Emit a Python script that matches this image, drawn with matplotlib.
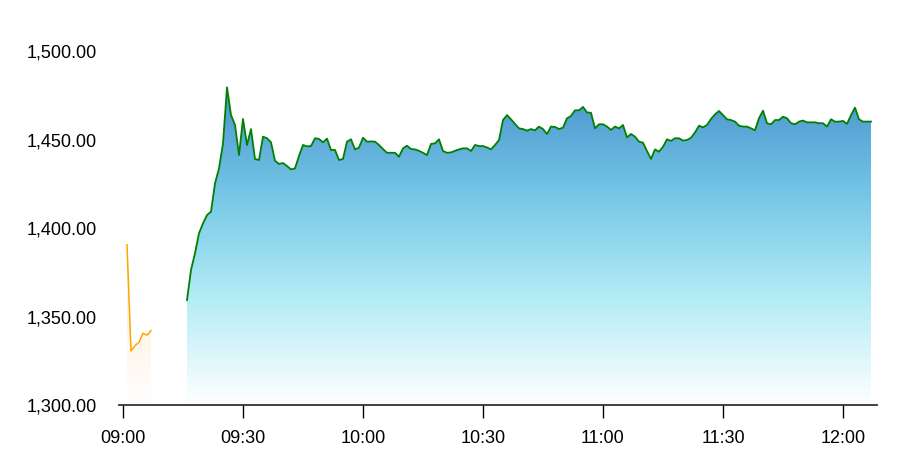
import matplotlib
matplotlib.use('Agg')
import matplotlib.pyplot as plt
import matplotlib.dates as mdates
from matplotlib.colors import LinearSegmentedColormap
from matplotlib.ticker import FuncFormatter
import numpy as np
import pandas as pd

plt.rcParams['font.family'] = ['Liberation Sans', 'DejaVu Sans']

# pre-open auction, one value a minute from 09:01
pre_start = '2024-01-02 09:01'
pre_values = [1390.5, 1330.5, 1333.5, 1335.5, 1340.5, 1339.5, 1342.0]

# continuous session, one value a minute from 09:16
main_start = '2024-01-02 09:16'
main_values = [
    1359.3, 1376.3, 1385.7, 1397.0, 1402.6, 1407.3, 1409.2, 1425.2, 1433.7, 1447.8,
    1479.5, 1463.8, 1458.2, 1441.2, 1461.6, 1446.9, 1455.9, 1439.0, 1438.4, 1451.6,
    1450.7, 1448.4, 1438.0, 1436.2, 1436.7, 1435.0, 1433.1, 1433.7, 1440.7, 1446.9,
    1446.1, 1446.3, 1450.7, 1450.3, 1448.4, 1450.5, 1444.1, 1444.1, 1438.4, 1439.0,
    1448.8, 1450.1, 1444.4, 1445.4,
    # 10:00
    1451.0, 1448.8, 1448.9, 1448.8, 1446.9, 1444.6, 1442.5, 1442.5, 1442.5, 1440.3,
    1445.0, 1446.5, 1444.6, 1444.4, 1443.6, 1442.5, 1441.2, 1447.5, 1447.8, 1450.1,
    1443.5, 1442.5, 1442.7, 1443.6, 1444.4, 1445.0, 1445.0, 1443.5, 1446.9, 1446.3,
    1446.3, 1445.5, 1444.4, 1446.9, 1449.7, 1461.0, 1463.8, 1461.4, 1458.8, 1456.3,
    1455.9, 1455.0, 1455.9, 1455.2, 1457.3, 1455.9, 1453.1, 1457.3, 1457.1, 1455.9,
    1456.7, 1462.0, 1463.3, 1466.5, 1466.5, 1468.4, 1465.3, 1465.1, 1456.3, 1458.6,
    # 11:00
    1458.6, 1457.3, 1455.4, 1457.3, 1456.3, 1458.2, 1451.2, 1453.1, 1451.6, 1448.8,
    1448.2, 1443.5, 1439.0, 1444.4, 1443.1, 1445.9, 1450.1, 1449.2, 1450.7, 1450.7,
    1449.4, 1449.7, 1451.0, 1454.0, 1457.8, 1456.9, 1458.2, 1461.6, 1464.2, 1466.1,
    1463.8, 1461.4, 1461.0, 1460.1, 1457.8, 1457.3, 1457.3, 1456.3, 1455.2, 1462.0,
    1466.3, 1459.2, 1458.6, 1461.0, 1461.0, 1462.9, 1462.0, 1459.2, 1458.6, 1460.1,
    1460.7, 1459.7, 1459.7, 1459.7, 1459.2, 1459.2, 1457.3, 1461.4, 1460.1, 1460.1,
    # 12:00
    1460.5, 1458.8, 1463.8, 1468.0, 1461.4, 1460.1, 1460.1, 1460.1,
]

y_min, y_max = 1300, 1500
y_ticks = [1300, 1350, 1400, 1450, 1500]

pre_x = mdates.date2num(pd.date_range(pre_start, periods=len(pre_values), freq='min'))
main_x = mdates.date2num(pd.date_range(main_start, periods=len(main_values), freq='min'))

blue_cmap = LinearSegmentedColormap.from_list(
    'blue', ['#ffffff', '#b4ecf6', '#74c6e6', '#4a93cd'])
orange_cmap = LinearSegmentedColormap.from_list(
    'orange', ['#ffffff', '#fff3e6', '#ffeedd'])


def gradient_fill(ax, x, y, cmap):
    poly = ax.fill_between(x, y, y_min, facecolor='none', edgecolor='none')
    grad = np.linspace(0, 1, 256).reshape(-1, 1)
    img = ax.imshow(grad, aspect='auto', cmap=cmap, origin='lower',
                    extent=[x[0], x[-1], y_min, max(y)], zorder=1)
    img.set_clip_path(poly.get_paths()[0], transform=ax.transData)


fig = plt.figure(figsize=(9.22, 4.61), dpi=100)
ax = fig.add_axes([119 / 922, 1 - 405 / 461, (877 - 119) / 922, (405 - 51) / 461])

gradient_fill(ax, pre_x, pre_values, orange_cmap)
gradient_fill(ax, main_x, main_values, blue_cmap)
ax.plot(pre_x, pre_values, color='#ffa500', lw=1.1, zorder=3)
ax.plot(main_x, main_values, color='#008000', lw=1.3, zorder=3)

t0 = mdates.date2num(pd.Timestamp('2024-01-02 09:00'))
minute = 1 / (24 * 60)
ax.set_xlim(t0 - minute, t0 + 188.5 * minute)
ax.set_ylim(y_min, y_max)

ax.xaxis.set_major_locator(mdates.MinuteLocator(byminute=[0, 30]))
ax.xaxis.set_major_formatter(mdates.DateFormatter('%H:%M'))
ax.set_yticks(y_ticks)
ax.yaxis.set_major_formatter(FuncFormatter(lambda v, p: f'{v:,.2f}'))

for side in ['top', 'right', 'left']:
    ax.spines[side].set_visible(False)
ax.spines['bottom'].set_color('#333333')
ax.spines['bottom'].set_linewidth(1.3)
ax.tick_params(axis='x', length=9, width=1, color='#000000', labelsize=13, pad=9)
ax.tick_params(axis='y', length=0, labelsize=13, pad=16)

fig.savefig('out.png', dpi=100)
